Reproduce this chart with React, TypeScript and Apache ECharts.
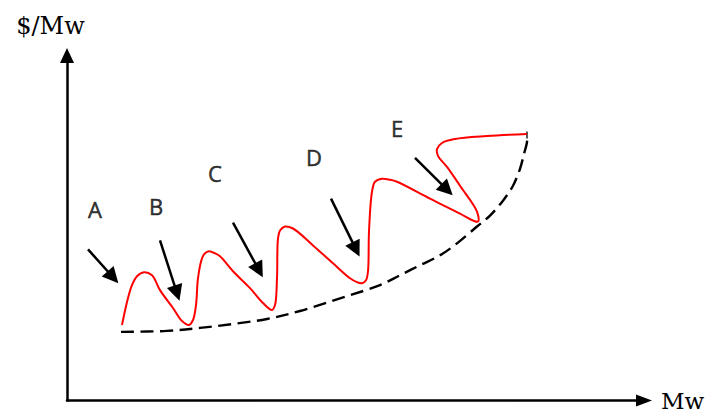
import React, { useEffect, useRef } from "react";
import * as echarts from "echarts";

// Axis extent (arbitrary Mw and $/Mw units)
const X_MAX = 57.7;
const Y_MAX = 34.7;

// Supply curve with steps (red)
const supplyCurve: [number, number][] = [
  [5.5, 7.6], [6.1, 10.3], [6.5, 11.6], [7.0, 12.5], [7.7, 12.9], [8.5, 12.6],
  [9.3, 11.1], [10.6, 9.3], [11.5, 8.0], [12.2, 7.6], [12.6, 8.1], [12.9, 9.6],
  [13.1, 12.3], [13.5, 14.3], [13.8, 14.8], [14.2, 15.0], [14.8, 14.8], [15.3, 14.5],
  [16.6, 13.0], [18.3, 11.3], [19.6, 9.8], [20.5, 9.1], [20.8, 9.6], [21.0, 12.3],
  [21.1, 16.3], [21.3, 17.1], [21.8, 17.5], [22.6, 17.3], [24.6, 15.6], [26.6, 13.8],
  [28.3, 12.3], [29.0, 11.9], [29.5, 11.8], [29.9, 12.1], [30.1, 13.0], [30.2, 17.0],
  [30.5, 21.0], [30.8, 22.0], [31.5, 22.3], [32.3, 22.2], [33.0, 22.0], [36.3, 20.3],
  [39.3, 18.8], [40.6, 18.1], [41.1, 18.0], [41.0, 19.0], [39.3, 21.6], [38.0, 23.5],
  [37.1, 24.6], [37.0, 25.3], [37.5, 25.9], [38.8, 26.3], [42.0, 26.6], [46.0, 26.8],
];

// Lower envelope (dashed)
const envelope: [number, number][] = [
  [5.4, 6.9], [10.0, 7.0], [13.3, 7.3], [16.6, 7.7], [20.0, 8.2], [23.3, 9.0],
  [28.0, 10.5], [31.3, 11.6], [33.3, 12.6], [35.3, 13.6], [37.3, 14.6], [39.0, 15.8],
  [41.0, 17.5], [42.3, 18.6], [43.6, 20.1], [44.6, 21.6], [45.3, 23.3], [45.7, 24.8],
  [46.0, 26.0], [46.0, 26.7],
];

// Point labels and their pointer arrows (tail -> head)
const pointNames = ["A", "B", "C", "D", "E"];
const labelPos: [number, number][] = [
  [2.8, 19.3], [8.9, 19.6], [14.8, 22.9], [24.7, 24.5], [33.0, 27.4],
];
const arrowTail: [number, number][] = [
  [2.1, 15.2], [9.3, 16.1], [16.6, 17.9], [26.4, 20.3], [34.8, 24.4],
];
const arrowHead: [number, number][] = [
  [4.6, 12.4], [11.0, 10.8], [19.2, 13.1], [28.9, 15.2], [38.0, 21.2],
];

const xAxisName = "Mw";
const yAxisName = "$/Mw";

// Centripetal Catmull-Rom spline through pixel points, as SVG path data
function splinePath(pts: number[][]): string {
  const n = pts.length;
  const eps = 1e-6;
  let d = `M${pts[0][0]},${pts[0][1]}`;
  for (let i = 0; i < n - 1; i++) {
    const p0 = pts[Math.max(0, i - 1)];
    const p1 = pts[i];
    const p2 = pts[i + 1];
    const p3 = pts[Math.min(n - 1, i + 2)];
    const l01 = Math.hypot(p1[0] - p0[0], p1[1] - p0[1]);
    const l12 = Math.hypot(p2[0] - p1[0], p2[1] - p1[1]);
    const l23 = Math.hypot(p3[0] - p2[0], p3[1] - p2[1]);
    const a01 = Math.sqrt(l01);
    const a12 = Math.sqrt(l12);
    const a23 = Math.sqrt(l23);
    let c1x = p1[0], c1y = p1[1], c2x = p2[0], c2y = p2[1];
    if (a01 > eps) {
      const a = 2 * l01 + 3 * a01 * a12 + l12;
      const m = 3 * a01 * (a01 + a12);
      c1x = (p1[0] * a - p0[0] * l12 + p2[0] * l01) / m;
      c1y = (p1[1] * a - p0[1] * l12 + p2[1] * l01) / m;
    }
    if (a23 > eps) {
      const b = 2 * l23 + 3 * a23 * a12 + l12;
      const m = 3 * a23 * (a23 + a12);
      c2x = (p2[0] * b + p1[0] * l23 - p3[0] * l12) / m;
      c2y = (p2[1] * b + p1[1] * l23 - p3[1] * l12) / m;
    }
    d += ` C${c1x},${c1y} ${c2x},${c2y} ${p2[0]},${p2[1]}`;
  }
  return d;
}

function curveSeries(
  points: [number, number][],
  style: Record<string, unknown>,
  endTick: boolean,
  z: number
) {
  return {
    type: "custom",
    coordinateSystem: "cartesian2d",
    data: points,
    encode: { x: 0, y: 1 },
    z,
    renderItem: (params: any, api: any) => {
      if (params.dataIndex !== 0) return null;
      const px = points.map((p) => api.coord(p));
      const children: any[] = [
        {
          type: "path",
          shape: { pathData: splinePath(px) },
          style: { fill: "none", ...style },
        },
      ];
      if (endTick) {
        const e = px[px.length - 1];
        children.push({
          type: "line",
          shape: { x1: e[0], y1: e[1] - 3.5, x2: e[0], y2: e[1] + 3.5 },
          style: { stroke: "#222", lineWidth: 1.5 },
        });
      }
      return { type: "group", children };
    },
  };
}

export default function App() {
  const ref = useRef<HTMLDivElement>(null);

  useEffect(() => {
    if (!ref.current) return;
    const chart = echarts.init(ref.current, undefined, { renderer: "svg" });

    chart.setOption({
      animation: false,
      backgroundColor: "#ffffff",
      grid: { left: 67, right: 69, top: 55.5, bottom: 9 },
      xAxis: {
        type: "value",
        min: 0,
        max: X_MAX,
        name: xAxisName,
        nameLocation: "end",
        nameGap: 17,
        nameTextStyle: {
          fontFamily: "DejaVu Serif",
          fontSize: 23,
          color: "#000",
          align: "left",
          verticalAlign: "middle",
          padding: [0, 0, 11, 0],
        },
        axisLine: {
          show: true,
          symbol: ["none", "triangle"],
          symbolSize: [12, 16],
          lineStyle: { color: "#000", width: 2.5 },
        },
        axisTick: { show: false },
        axisLabel: { show: false },
        splitLine: { show: false },
      },
      yAxis: {
        type: "value",
        min: 0,
        max: Y_MAX,
        name: yAxisName,
        nameLocation: "end",
        nameGap: 18,
        nameTextStyle: {
          fontFamily: "DejaVu Serif",
          fontSize: 24,
          color: "#000",
          align: "center",
          verticalAlign: "bottom",
          padding: [0, 33, 0, 0],
        },
        axisLine: {
          show: true,
          symbol: ["none", "triangle"],
          symbolSize: [14, 15],
          lineStyle: { color: "#000", width: 2.5 },
        },
        axisTick: { show: false },
        axisLabel: { show: false },
        splitLine: { show: false },
      },
      series: [
        curveSeries(envelope, { stroke: "#000", lineWidth: 2.4, lineDash: [13, 6.5] }, true, 2),
        curveSeries(supplyCurve, { stroke: "#ff0000", lineWidth: 2 }, false, 3),
        {
          type: "lines",
          coordinateSystem: "cartesian2d",
          symbol: ["none", "triangle"],
          symbolSize: 16,
          lineStyle: { color: "#000", width: 2.5, opacity: 1 },
          data: arrowTail.map((t, i) => ({ coords: [t, arrowHead[i]] })),
          z: 4,
        },
        {
          type: "scatter",
          symbolSize: 0,
          data: pointNames.map((n, i) => ({ name: n, value: labelPos[i] })),
          label: {
            show: true,
            position: "inside",
            formatter: "{b}",
            fontFamily: "Open Sans",
            fontSize: 22,
            color: "#000",
            textBorderColor: "#000",
            textBorderWidth: 0.5,
          },
          z: 5,
        },
      ],
    });

    return () => chart.dispose();
  }, []);

  return (
    <div
      ref={ref}
      style={{ position: "fixed", left: 0, top: 0, width: 713, height: 412 }}
    />
  );
}
